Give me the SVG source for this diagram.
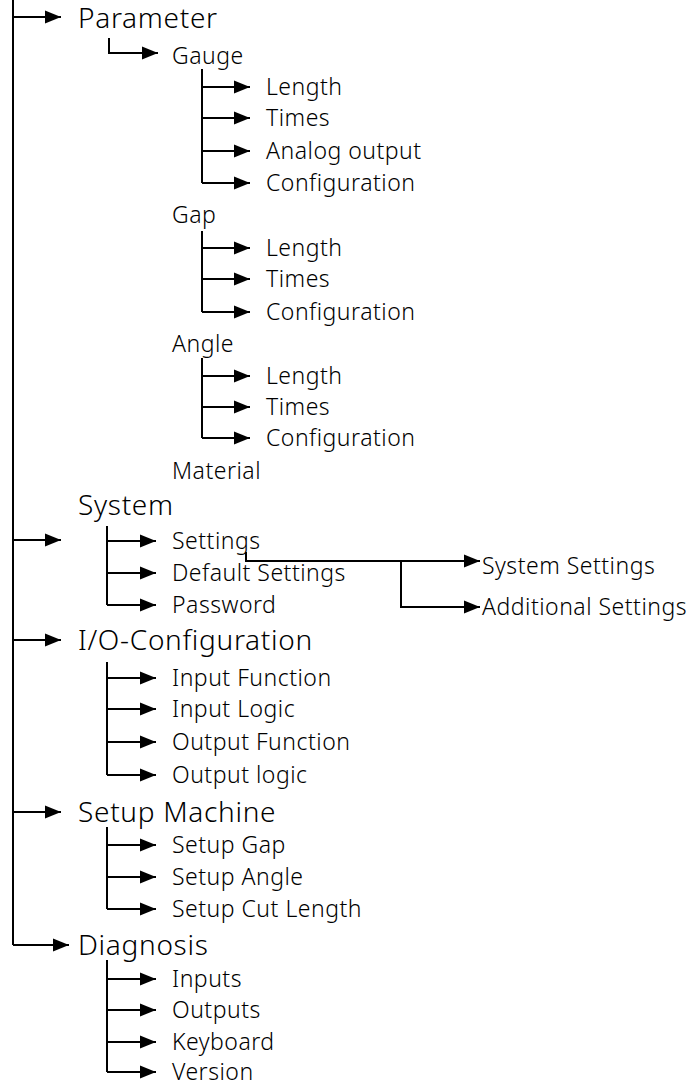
<svg xmlns="http://www.w3.org/2000/svg" width="691" height="1085" viewBox="0 0 691 1085">
<style>
text{font-family:"Noto Sans","Liberation Sans",sans-serif;font-weight:300;fill:#000}
.t1{font-size:28px;letter-spacing:0.7px}
.t2{font-size:23px;letter-spacing:0.5px}
.c{fill:none;stroke:#000;stroke-width:2}
.a{fill:none;stroke:#000;stroke-width:2;marker-end:url(#ah)}
</style>
<defs>
<marker id="ah" markerWidth="17" markerHeight="14" refX="16" refY="7" orient="auto" markerUnits="userSpaceOnUse"><path d="M0,0.5 L16,7 L0,13.5 z" fill="#000"/></marker>
</defs>
<rect width="691" height="1085" fill="#fff"/>
<g id="connectors">
<path class="c" d="M13,0 V945"/>
<path class="a" d="M13,17 H61"/>
<path class="a" d="M13,540 H61"/>
<path class="a" d="M13,640 H61"/>
<path class="a" d="M13,812 H61"/>
<path class="a" d="M13,945 H69"/>
<path class="a" d="M109,38 V53 H158"/>
<path class="c" d="M202,69 V183"/>
<path class="a" d="M202,87 H250"/>
<path class="a" d="M202,118 H250"/>
<path class="a" d="M202,151 H250"/>
<path class="a" d="M202,183 H250"/>
<path class="c" d="M202,231 V312"/>
<path class="a" d="M202,248 H250"/>
<path class="a" d="M202,279 H250"/>
<path class="a" d="M202,312 H250"/>
<path class="c" d="M202,358 V438"/>
<path class="a" d="M202,376 H250"/>
<path class="a" d="M202,407 H250"/>
<path class="a" d="M202,438 H250"/>
<path class="c" d="M107,526 V605"/>
<path class="a" d="M107,541 H156"/>
<path class="a" d="M107,573 H156"/>
<path class="a" d="M107,605 H156"/>
<path class="a" d="M246,552 V561 H480"/>
<path class="a" d="M401,561 V607 H480"/>
<path class="c" d="M107,662 V775"/>
<path class="a" d="M107,678 H156"/>
<path class="a" d="M107,709 H156"/>
<path class="a" d="M107,742 H156"/>
<path class="a" d="M107,775 H156"/>
<path class="c" d="M107,827 V909"/>
<path class="a" d="M107,845 H156"/>
<path class="a" d="M107,877 H156"/>
<path class="a" d="M107,909 H156"/>
<path class="c" d="M107,960 V1072"/>
<path class="a" d="M107,979 H156"/>
<path class="a" d="M107,1010 H156"/>
<path class="a" d="M107,1042 H156"/>
<path class="a" d="M107,1072 H156"/>
</g>
<g id="parameter"><text class="t1" x="78" y="28">Parameter</text></g>
<g id="gauge"><text class="t2" x="172" y="64">Gauge</text></g>
<g id="gauge-length"><text class="t2" x="266" y="95">Length</text></g>
<g id="gauge-times"><text class="t2" x="266" y="126">Times</text></g>
<g id="gauge-analog"><text class="t2" x="266" y="159">Analog output</text></g>
<g id="gauge-config"><text class="t2" x="266" y="191">Configuration</text></g>
<g id="gap"><text class="t2" x="172" y="223">Gap</text></g>
<g id="gap-length"><text class="t2" x="266" y="256">Length</text></g>
<g id="gap-times"><text class="t2" x="266" y="287">Times</text></g>
<g id="gap-config"><text class="t2" x="266" y="320">Configuration</text></g>
<g id="angle"><text class="t2" x="172" y="352">Angle</text></g>
<g id="angle-length"><text class="t2" x="266" y="384">Length</text></g>
<g id="angle-times"><text class="t2" x="266" y="415">Times</text></g>
<g id="angle-config"><text class="t2" x="266" y="446">Configuration</text></g>
<g id="material"><text class="t2" x="172" y="479">Material</text></g>
<g id="system"><text class="t1" x="78" y="515">System</text></g>
<g id="settings"><text class="t2" x="172" y="549">Settings</text></g>
<g id="default-settings"><text class="t2" x="172" y="581">Default Settings</text></g>
<g id="password"><text class="t2" x="172" y="613">Password</text></g>
<g id="system-settings"><text class="t2" x="482" y="574">System Settings</text></g>
<g id="additional-settings"><text class="t2" x="482" y="615">Additional Settings</text></g>
<g id="io-config"><text class="t1" x="78" y="650">I/O-Configuration</text></g>
<g id="input-function"><text class="t2" x="172" y="686">Input Function</text></g>
<g id="input-logic"><text class="t2" x="172" y="717">Input Logic</text></g>
<g id="output-function"><text class="t2" x="172" y="750">Output Function</text></g>
<g id="output-logic"><text class="t2" x="172" y="783">Output logic</text></g>
<g id="setup-machine"><text class="t1" x="78" y="822">Setup Machine</text></g>
<g id="setup-gap"><text class="t2" x="172" y="853">Setup Gap</text></g>
<g id="setup-angle"><text class="t2" x="172" y="885">Setup Angle</text></g>
<g id="setup-cut-length"><text class="t2" x="172" y="917">Setup Cut Length</text></g>
<g id="diagnosis"><text class="t1" x="78" y="955">Diagnosis</text></g>
<g id="inputs"><text class="t2" x="172" y="987">Inputs</text></g>
<g id="outputs"><text class="t2" x="172" y="1018">Outputs</text></g>
<g id="keyboard"><text class="t2" x="172" y="1050">Keyboard</text></g>
<g id="version"><text class="t2" x="172" y="1080">Version</text></g>
</svg>
